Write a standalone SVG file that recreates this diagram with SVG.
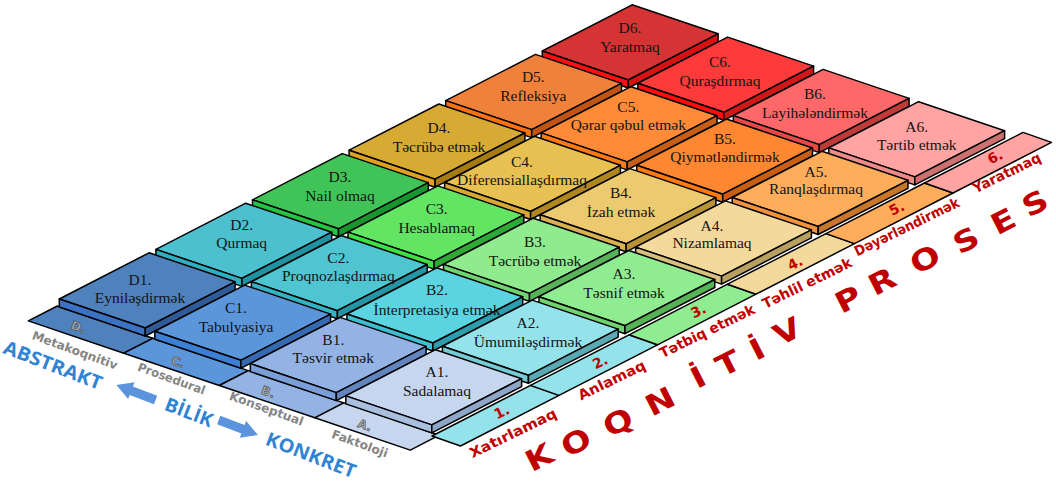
<svg xmlns="http://www.w3.org/2000/svg" xmlns:xlink="http://www.w3.org/1999/xlink" width="1056" height="481" viewBox="0 0 1056 481">
<style>
.tile use{stroke:#000;stroke-width:1.5;stroke-linejoin:round}
.strip{stroke:#000;stroke-width:1.5;stroke-linejoin:round}
.tt{font-family:"Liberation Serif","Times New Roman",serif;font-size:15.5px;text-anchor:middle;fill:#141414}
.cn{font-family:"DejaVu Sans",sans-serif;font-weight:bold;font-size:14px;fill:#c00000;text-anchor:middle}
.kn{font-family:"DejaVu Sans",sans-serif;font-weight:bold;font-size:12px;fill:#858585;text-anchor:middle}
.kd{font-family:"DejaVu Sans",sans-serif;font-weight:bold;font-size:12px;fill:#a8a8a8;stroke:#3a3a3a;stroke-width:0.5;text-anchor:middle}
.ax{font-family:"Open Sans",sans-serif;font-weight:bold;font-size:19px;fill:#2f84d4;text-anchor:middle}
.big{font-family:"DejaVu Sans",sans-serif;font-weight:bold;font-size:29px;fill:#c00000;text-anchor:middle}
.arr{fill:#5b93dc}
</style>
<defs>
<polygon id="tf" points="1.9,-37.6 87.9,-8.6 -1.9,37.6 -87.9,8.6"/>
<polygon id="tl" points="-87.9,8.6 -1.9,37.6 -1.9,45.6 -87.9,16.6"/>
<polygon id="tr" points="-1.9,37.6 87.9,-8.6 87.9,-0.6 -1.9,45.6"/>
</defs>
<rect width="1056" height="481" fill="#fff"/>

<g id="knowledge-strips">
<polygon class="strip" points="57.3,306 152.8,338.3 123.8,353.2 28.3,320.9" fill="#4f81bd"/>
<polygon class="strip" points="152.8,338.3 248.3,370.6 219.3,385.5 123.8,353.2" fill="#5c96da"/>
<polygon class="strip" points="248.3,370.6 343.8,402.9 314.8,417.8 219.3,385.5" fill="#93b3e4"/>
<polygon class="strip" points="343.8,402.9 439.3,435.2 410.3,450.1 314.8,417.8" fill="#c6d6ef"/>
<text class="kd" transform="translate(78.3,326.7) rotate(20)" y="4.5">D.</text>
<text class="kn" transform="translate(75,350) rotate(20)" y="4.5" textLength="90" lengthAdjust="spacingAndGlyphs">Metakoqnitiv</text>
<text class="kd" transform="translate(178.3,361.7) rotate(20)" y="4.5">C.</text>
<text class="kn" transform="translate(171.7,378.3) rotate(20)" y="4.5" textLength="71" lengthAdjust="spacingAndGlyphs">Prosedural</text>
<text class="kd" transform="translate(268.3,391.7) rotate(20)" y="4.5">B.</text>
<text class="kn" transform="translate(266.7,408.3) rotate(20)" y="4.5" textLength="78" lengthAdjust="spacingAndGlyphs">Konseptual</text>
<text class="kd" transform="translate(365,425) rotate(20)" y="4.5">A.</text>
<text class="kn" transform="translate(360,443.3) rotate(20)" y="4.5" textLength="59" lengthAdjust="spacingAndGlyphs">Faktoloji</text>
</g>

<g id="cognitive-strips">
<polygon class="strip" points="432,436 530.5,385.4 559,395.4 460.5,446" fill="#94e3ea"/>
<polygon class="strip" points="530.5,385.4 629,334.8 657.5,344.8 559,395.4" fill="#94e3ea"/>
<polygon class="strip" points="629,334.8 727.5,284.2 756,294.2 657.5,344.8" fill="#90ec90"/>
<polygon class="strip" points="727.5,284.2 826,233.6 854.5,243.6 756,294.2" fill="#f3d99c"/>
<polygon class="strip" points="826,233.6 924.5,183 953,193 854.5,243.6" fill="#ffad5b"/>
<polygon class="strip" points="924.5,183 1023,132.4 1051.5,142.4 953,193" fill="#ffa3a3"/>
<text class="cn" transform="translate(501.7,411.7) rotate(-26)" y="5">1.</text>
<text class="cn" transform="translate(513,433) rotate(-26)" y="5" textLength="95" lengthAdjust="spacingAndGlyphs">Xatırlamaq</text>
<text class="cn" transform="translate(600,361.7) rotate(-26)" y="5">2.</text>
<text class="cn" transform="translate(611.7,380) rotate(-26)" y="5" textLength="73" lengthAdjust="spacingAndGlyphs">Anlamaq</text>
<text class="cn" transform="translate(698.3,310.7) rotate(-26)" y="5">3.</text>
<text class="cn" transform="translate(707,331) rotate(-26)" y="5" textLength="104" lengthAdjust="spacingAndGlyphs">Tətbiq etmək</text>
<text class="cn" transform="translate(795,263) rotate(-26)" y="5">4.</text>
<text class="cn" transform="translate(807,283) rotate(-26)" y="5" textLength="98" lengthAdjust="spacingAndGlyphs">Təhlil etmək</text>
<text class="cn" transform="translate(896.7,208.3) rotate(-26)" y="5">5.</text>
<text class="cn" transform="translate(906.7,226.7) rotate(-26)" y="5" textLength="115" lengthAdjust="spacingAndGlyphs">Dəyərləndirmək</text>
<text class="cn" transform="translate(995,156.7) rotate(-26)" y="5">6.</text>
<text class="cn" transform="translate(1006.7,172.7) rotate(-26)" y="5" textLength="74" lengthAdjust="spacingAndGlyphs">Yaratmaq</text>
</g>

<g id="D6" class="tile" transform="translate(630.2,42.4)"><use href="#tf" fill="#d63434"/><use href="#tl" fill="#ff1010"/><use href="#tr" fill="#d81212"/><text class="tt" x="-0.2" y="-9.1">D6.</text><text class="tt" x="-0.2" y="9.3">Yaratmaq</text></g>
<g id="C6" class="tile" transform="translate(725.7,74.7)"><use href="#tf" fill="#ff3a3a"/><use href="#tl" fill="#ff0d0d"/><use href="#tr" fill="#d01818"/><text class="tt" x="-5.7" y="-8">C6.</text><text class="tt" x="-5.7" y="11">Quraşdırmaq</text></g>
<g id="D5" class="tile" transform="translate(533.6,92)"><use href="#tf" fill="#f0813a"/><use href="#tl" fill="#ff7210"/><use href="#tr" fill="#c05414"/><text class="tt" x="-0.3" y="-9.7">D5.</text><text class="tt" x="-0.3" y="9">Refleksiya</text></g>
<g id="B6" class="tile" transform="translate(821.2,107)"><use href="#tf" fill="#ff6868"/><use href="#tl" fill="#e84848"/><use href="#tr" fill="#c03a3a"/><text class="tt" x="-6.2" y="-8">B6.</text><text class="tt" x="-6.2" y="10.7">Layihələndirmək</text></g>
<g id="C5" class="tile" transform="translate(629.1,124.3)"><use href="#tf" fill="#ff8a38"/><use href="#tl" fill="#ff7a15"/><use href="#tr" fill="#c65e18"/><text class="tt" x="-0.8" y="-12">C5.</text><text class="tt" x="-0.8" y="5.7">Qərar qəbul etmək</text></g>
<g id="D4" class="tile" transform="translate(437,141.6)"><use href="#tf" fill="#d6aa33"/><use href="#tl" fill="#e0a21e"/><use href="#tr" fill="#a67c12"/><text class="tt" x="2" y="-8.9">D4.</text><text class="tt" x="2" y="10.1">Təcrübə etmək</text></g>
<g id="A6" class="tile" transform="translate(916.7,139.3)"><use href="#tf" fill="#ffa3a3"/><use href="#tl" fill="#f08a8a"/><use href="#tr" fill="#cc7070"/><text class="tt" x="0" y="-7.6">A6.</text><text class="tt" x="0" y="10.7">Tərtib etmək</text></g>
<g id="B5" class="tile" transform="translate(724.6,156.6)"><use href="#tf" fill="#ff8731"/><use href="#tl" fill="#ff7a10"/><use href="#tr" fill="#c85e14"/><text class="tt" x="0.4" y="-12.3">B5.</text><text class="tt" x="0.4" y="5.1">Qiymətləndirmək</text></g>
<g id="C4" class="tile" transform="translate(532.5,173.9)"><use href="#tf" fill="#e7c151"/><use href="#tl" fill="#d8a833"/><use href="#tr" fill="#b08620"/><text class="tt" x="-10.5" y="-7.2">C4.</text><text class="tt" x="-10.5" y="11.1">Diferensiallaşdırmaq</text></g>
<g id="D3" class="tile" transform="translate(340.4,191.2)"><use href="#tf" fill="#40c458"/><use href="#tl" fill="#25c243"/><use href="#tr" fill="#18952e"/><text class="tt" x="-0.4" y="-9.5">D3.</text><text class="tt" x="-0.4" y="9.8">Nail olmaq</text></g>
<g id="A5" class="tile" transform="translate(820.1,188.9)"><use href="#tf" fill="#ffad5b"/><use href="#tl" fill="#f09240"/><use href="#tr" fill="#c8762c"/><text class="tt" x="-4.1" y="-12.2">A5.</text><text class="tt" x="-4.1" y="5.4">Ranqlaşdırmaq</text></g>
<g id="B4" class="tile" transform="translate(628,206.2)"><use href="#tf" fill="#ecca70"/><use href="#tl" fill="#dab050"/><use href="#tr" fill="#b89238"/><text class="tt" x="-7" y="-7.9">B4.</text><text class="tt" x="-7" y="10.5">İzah etmək</text></g>
<g id="C3" class="tile" transform="translate(435.9,223.5)"><use href="#tf" fill="#62e562"/><use href="#tl" fill="#3fe046"/><use href="#tr" fill="#2fa935"/><text class="tt" x="0.8" y="-9.2">C3.</text><text class="tt" x="0.8" y="9.8">Hesablamaq</text></g>
<g id="D2" class="tile" transform="translate(243.8,240.8)"><use href="#tf" fill="#4cc0cf"/><use href="#tl" fill="#2fb0c2"/><use href="#tr" fill="#2192a2"/><text class="tt" x="-2.1" y="-10.8">D2.</text><text class="tt" x="-2.1" y="7.5">Qurmaq</text></g>
<g id="A4" class="tile" transform="translate(723.5,238.5)"><use href="#tf" fill="#f3d99c"/><use href="#tl" fill="#d9bf7c"/><use href="#tr" fill="#b8a060"/><text class="tt" x="-11.5" y="-7.5">A4.</text><text class="tt" x="-11.5" y="9.8">Nizamlamaq</text></g>
<g id="B3" class="tile" transform="translate(531.4,255.8)"><use href="#tf" fill="#90eb8e"/><use href="#tl" fill="#70d470"/><use href="#tr" fill="#58b258"/><text class="tt" x="3.6" y="-9.1">B3.</text><text class="tt" x="3.6" y="9.9">Təcrübə etmək</text></g>
<g id="C2" class="tile" transform="translate(339.3,273.1)"><use href="#tf" fill="#4fc5d2"/><use href="#tl" fill="#33b3c4"/><use href="#tr" fill="#2595a5"/><text class="tt" x="-1" y="-9.8">C2.</text><text class="tt" x="-1" y="7.9">Proqnozlaşdırmaq</text></g>
<g id="D1" class="tile" transform="translate(147.2,290.4)"><use href="#tf" fill="#4f81bd"/><use href="#tl" fill="#3b72c4"/><use href="#tr" fill="#2f5c99"/><text class="tt" x="-7.2" y="-5.4">D1.</text><text class="tt" x="-7.2" y="12.9">Eyniləşdirmək</text></g>
<g id="A3" class="tile" transform="translate(626.9,288.1)"><use href="#tf" fill="#90ec90"/><use href="#tl" fill="#6fd46f"/><use href="#tr" fill="#55b355"/><text class="tt" x="-2.9" y="-8.8">A3.</text><text class="tt" x="-2.9" y="9.6">Təsnif etmək</text></g>
<g id="B2" class="tile" transform="translate(434.8,305.4)"><use href="#tf" fill="#5bd3e1"/><use href="#tl" fill="#3cbfd0"/><use href="#tr" fill="#2c9eb0"/><text class="tt" x="2.2" y="-10.4">B2.</text><text class="tt" x="2.2" y="9.6">İnterpretasiya etmək</text></g>
<g id="C1" class="tile" transform="translate(242.7,322.7)"><use href="#tf" fill="#5c96da"/><use href="#tl" fill="#3d7fd4"/><use href="#tr" fill="#3569b0"/><text class="tt" x="-6.7" y="-9.4">C1.</text><text class="tt" x="-6.7" y="9">Tabulyasiya</text></g>
<g id="A2" class="tile" transform="translate(530.3,337.7)"><use href="#tf" fill="#94e3ea"/><use href="#tl" fill="#76ccd6"/><use href="#tr" fill="#5aaab5"/><text class="tt" x="-2.3" y="-9.5">A2.</text><text class="tt" x="-2.3" y="9.5">Ümumiləşdirmək</text></g>
<g id="B1" class="tile" transform="translate(338.2,355)"><use href="#tf" fill="#93b3e4"/><use href="#tl" fill="#7a9fd8"/><use href="#tr" fill="#6285c0"/><text class="tt" x="-4.9" y="-10">B1.</text><text class="tt" x="-4.9" y="8.3">Təsvir etmək</text></g>
<g id="A1" class="tile" transform="translate(433.7,387.3)"><use href="#tf" fill="#c6d6ef"/><use href="#tl" fill="#a9bfdf"/><use href="#tr" fill="#8ea6c8"/><text class="tt" x="3.3" y="-10.3">A1.</text><text class="tt" x="3.3" y="8.7">Sadalamaq</text></g>

<g id="knowledge-axis">
<text class="ax" transform="translate(53,365) rotate(21)" y="6.8" textLength="104" lengthAdjust="spacingAndGlyphs">ABSTRAKT</text>
<text class="ax" transform="translate(189,412) rotate(21)" y="6.8" textLength="50" lengthAdjust="spacingAndGlyphs">BİLİK</text>
<text class="ax" transform="translate(311,455) rotate(21)" y="6.8" textLength="95" lengthAdjust="spacingAndGlyphs">KONKRET</text>
<polygon class="arr" transform="translate(136,392.5) rotate(21)" points="-21,0 -5,-9 -5,-4.5 21,-4.5 21,4.5 -5,4.5 -5,9"/>
<polygon class="arr" transform="translate(238.3,427.5) rotate(21)" points="21,0 5,-9 5,-4.5 -21,-4.5 -21,4.5 5,4.5 5,9"/>
</g>

<g id="cognitive-axis">
<text class="big" transform="translate(539,457) rotate(-27) scale(1.2,1)" y="10.5">K</text>
<text class="big" transform="translate(576,442) rotate(-27) scale(1.2,1)" y="10.5">O</text>
<text class="big" transform="translate(618,422) rotate(-27) scale(1.2,1)" y="10.5">Q</text>
<text class="big" transform="translate(660,401) rotate(-27) scale(1.2,1)" y="10.5">N</text>
<text class="big" transform="translate(698,377) rotate(-27) scale(1.2,1)" y="10.5">İ</text>
<text class="big" transform="translate(728,363) rotate(-27) scale(1.2,1)" y="10.5">T</text>
<text class="big" transform="translate(757,349) rotate(-27) scale(1.2,1)" y="10.5">İ</text>
<text class="big" transform="translate(787,331) rotate(-27) scale(1.2,1)" y="10.5">V</text>
<text class="big" transform="translate(848,299) rotate(-27) scale(1.2,1)" y="10.5">P</text>
<text class="big" transform="translate(882,281) rotate(-27) scale(1.2,1)" y="10.5">R</text>
<text class="big" transform="translate(925,259) rotate(-27) scale(1.2,1)" y="10.5">O</text>
<text class="big" transform="translate(966,240) rotate(-27) scale(1.2,1)" y="10.5">S</text>
<text class="big" transform="translate(1003,221) rotate(-27) scale(1.2,1)" y="10.5">E</text>
<text class="big" transform="translate(1035,203) rotate(-27) scale(1.2,1)" y="10.5">S</text>
</g>
</svg>
